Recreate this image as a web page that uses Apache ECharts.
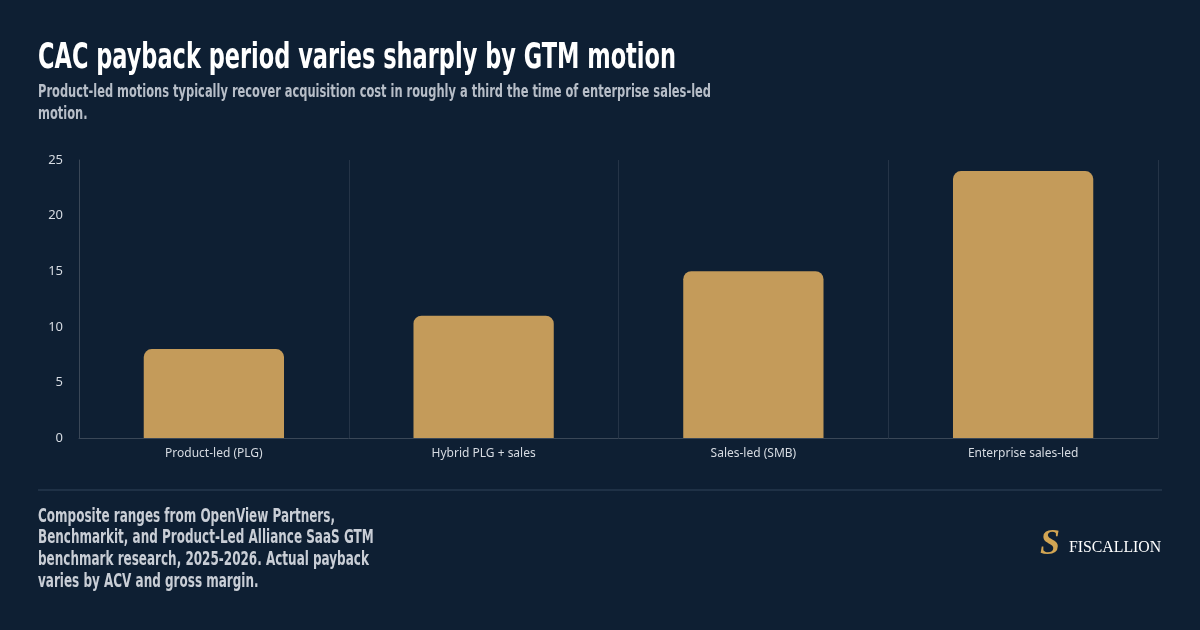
<!DOCTYPE html>
<html>
<head>
<meta charset="utf-8">
<script src="https://cdn.jsdelivr.net/npm/echarts@6/dist/echarts.min.js"></script>
<style>
  html, body { margin: 0; padding: 0; background: #0e1f33; }
  #chart { width: 1200px; height: 630px; }
</style>
</head>
<body>
<div id="chart"></div>
<script>
// données
const categories = ['Product-led (PLG)', 'Hybrid PLG + sales', 'Sales-led (SMB)', 'Enterprise sales-led'];
const paybackMonths = [8, 11, 15, 24];
const yTicks = [0, 5, 10, 15, 20, 25];

const titleText = 'CAC payback period varies sharply by GTM motion';
const subtitleLines = ['Product-led motions typically recover acquisition cost in roughly a third the time of enterprise sales-led', 'motion.'];
const footerLines = ['Composite ranges from OpenView Partners,', 'Benchmarkit, and Product-Led Alliance SaaS GTM', 'benchmark research, 2025-2026. Actual payback', 'varies by ACV and gross margin.'];

// pas de police condensée installée : on compresse horizontalement une police existante
const condensedFont = '"DejaVu Sans Condensed", "DejaVu Sans", sans-serif';
const measureCtx = document.createElement('canvas').getContext('2d');
function fitScale(text, size, targetWidth) {
  measureCtx.font = 'bold ' + size + 'px ' + condensedFont;
  return targetWidth / measureCtx.measureText(text).width;
}

function condensedText(lines, x, y, size, lineHeight, color, widestTarget) {
  const sx = fitScale(lines[0], size, widestTarget);
  return {
    type: 'text',
    x: x,
    y: y,
    scaleX: sx,
    silent: true,
    style: {
      text: lines.join('\n'),
      fill: color,
      font: 'bold ' + size + 'px ' + condensedFont,
      lineHeight: lineHeight,
      textVerticalAlign: 'top'
    }
  };
}

const chart = echarts.init(document.getElementById('chart'));

const option = {
  backgroundColor: '#0e1f33',
  grid: { left: 79, right: 42, top: 160, bottom: 192 },
  xAxis: {
    type: 'category',
    data: categories,
    axisLine: { show: true, lineStyle: { color: '#3a4757', width: 1 } },
    axisTick: { show: false },
    splitLine: { show: true, lineStyle: { color: '#253447', width: 1 } },
    axisLabel: { color: '#d6dbe2', fontSize: 12, fontFamily: '"Noto Sans", sans-serif', margin: 10 }
  },
  yAxis: {
    type: 'value',
    min: yTicks[0],
    max: yTicks[yTicks.length - 1],
    interval: 5,
    axisLine: { show: true, lineStyle: { color: '#3a4757', width: 1 } },
    axisTick: { show: false },
    splitLine: { show: false },
    axisLabel: { color: '#d6dbe2', fontSize: 13, fontFamily: '"Noto Sans", sans-serif', margin: 16 }
  },
  series: [
    {
      type: 'bar',
      data: paybackMonths,
      barWidth: '52%',
      itemStyle: { color: '#c49b5a', borderRadius: [8, 8, 0, 0] },
      silent: true
    }
  ],
  graphic: [
    condensedText([titleText], 38, 39, 36, 40, '#ffffff', 638),
    condensedText(subtitleLines, 38, 81, 18, 22, '#b7bec8', 673),
    condensedText(footerLines, 38, 506, 19, 21.7, '#c9ced6', 297),
    {
      type: 'line',
      shape: { x1: 38, y1: 490, x2: 1162, y2: 490 },
      style: { stroke: '#1f3146', lineWidth: 2 }
    },
    {
      type: 'text',
      x: 1040,
      y: 527,
      style: {
        text: 'S',
        fill: '#d2a553',
        font: 'bold italic 36px "Liberation Serif", serif',
        textVerticalAlign: 'top'
      }
    },
    {
      type: 'text',
      x: 1069,
      y: 540,
      style: { text: 'FISCALLION', fill: '#ffffff', font: '15.8px "Liberation Serif", serif', textVerticalAlign: 'top' }
    }
  ]
};

chart.setOption(option);
</script>
</body>
</html>
